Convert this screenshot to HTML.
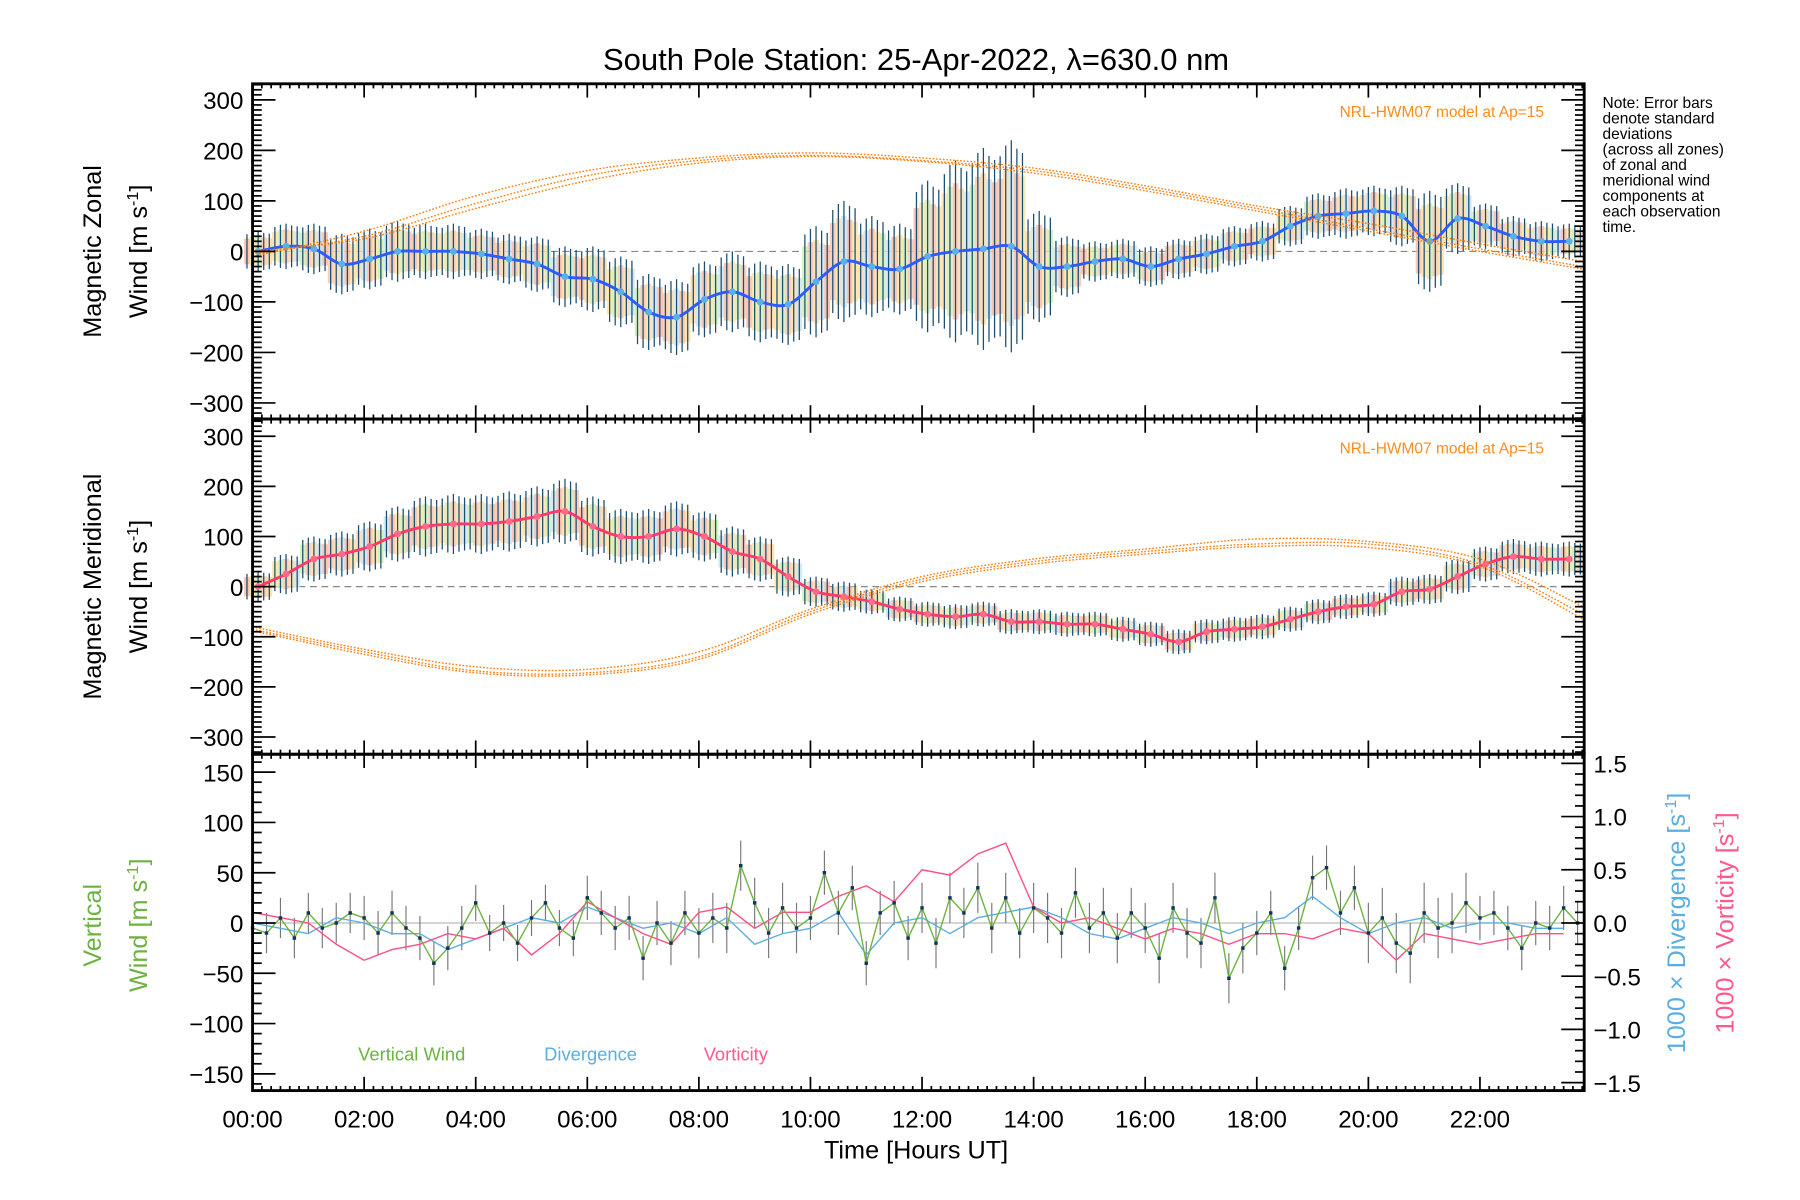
<!DOCTYPE html>
<html><head><meta charset="utf-8"><style>
html,body{margin:0;padding:0;background:#fff;}
svg{display:block;font-family:"Liberation Sans",sans-serif;}
</style></head><body>
<svg id="chart" width="1800" height="1200" viewBox="0 0 1568 1045.3" preserveAspectRatio="none" xmlns="http://www.w3.org/2000/svg">
<text x="798" y="61" font-size="27" text-anchor="middle">South Pole Station: 25-Apr-2022, λ=630.0 nm</text>
<g id="marks"></g>
<g id="axes"></g>
<g font-size="13.5">
<text x="1396" y="94">Note: Error bars</text><text x="1396" y="107.5">denote standard</text><text x="1396" y="121">deviations</text><text x="1396" y="134.5">(across all zones)</text><text x="1396" y="148">of zonal and</text><text x="1396" y="161.5">meridional wind</text><text x="1396" y="175">components at</text><text x="1396" y="188.5">each observation</text><text x="1396" y="202">time.</text>
</g>
<text x="1345" y="102" font-size="13.5" fill="#ff8c1a" text-anchor="end">NRL-HWM07 model at Ap=15</text>
<text x="1345" y="395" font-size="13.5" fill="#ff8c1a" text-anchor="end">NRL-HWM07 model at Ap=15</text>
<text transform="translate(88,219) rotate(-90)" font-size="22" text-anchor="middle">Magnetic Zonal</text>
<text transform="translate(128,219) rotate(-90)" font-size="22" text-anchor="middle">Wind [m s<tspan dy="-8" font-size="14">-1</tspan><tspan dy="8">]</tspan></text>
<text transform="translate(88,511) rotate(-90)" font-size="22" text-anchor="middle">Magnetic Meridional</text>
<text transform="translate(128,511) rotate(-90)" font-size="22" text-anchor="middle">Wind [m s<tspan dy="-8" font-size="14">-1</tspan><tspan dy="8">]</tspan></text>
<text transform="translate(88,806) rotate(-90)" font-size="22" fill="#6db33f" text-anchor="middle">Vertical</text>
<text transform="translate(128,806) rotate(-90)" font-size="22" fill="#6db33f" text-anchor="middle">Wind [m s<tspan dy="-8" font-size="14">-1</tspan><tspan dy="8">]</tspan></text>
<text transform="translate(1468,804) rotate(-90)" font-size="22" fill="#5aaee0" text-anchor="middle">1000 × Divergence [s<tspan dy="-8" font-size="14">-1</tspan><tspan dy="8">]</tspan></text>
<text transform="translate(1510,804) rotate(-90)" font-size="22" fill="#ff5a8a" text-anchor="middle">1000 × Vorticity [s<tspan dy="-8" font-size="14">-1</tspan><tspan dy="8">]</tspan></text>
<text x="312" y="924" font-size="16" fill="#6db33f">Vertical Wind</text>
<text x="474" y="924" font-size="16" fill="#5aaee0">Divergence</text>
<text x="613" y="924" font-size="16" fill="#ff5a8a">Vorticity</text>
<text x="798" y="1009" font-size="22" text-anchor="middle">Time [Hours UT]</text>
</svg>
<script>
// ---- data ----
const zonalMean=[0,10,5,-25,-15,0,0,0,-5,-15,-25,-50,-55,-80,-120,-130,-95,-80,-100,-105,-60,-20,-30,-35,-10,0,5,10,-30,-30,-20,-15,-30,-15,-5,10,20,50,70,75,80,70,20,65,50,30,20,20];
const zonalSd=[40,45,50,60,60,60,55,55,50,50,55,60,65,70,75,75,75,80,80,80,110,120,100,90,150,180,200,210,110,60,40,40,40,40,40,40,40,40,45,50,50,60,100,70,45,40,40,35];
const meridMean=[0,25,55,65,80,105,120,125,125,130,140,150,120,100,100,115,100,70,55,20,-10,-20,-30,-45,-55,-60,-55,-70,-70,-75,-75,-85,-95,-110,-90,-85,-80,-65,-50,-40,-35,-10,-5,20,45,60,55,55];
const meridSd=[30,40,45,45,50,55,60,60,60,60,60,65,60,55,55,55,50,50,45,40,30,30,25,25,25,25,25,25,25,25,25,25,25,25,25,25,25,25,25,25,25,30,30,35,35,35,35,35];
const modelHours=[0,2,4,6,8,10,12,14,16,18,20,22,23.85];
const zonalModelA=[-10,40,110,160,185,195,185,165,130,90,55,15,-20];
const zonalModelB=[-5,30,95,150,180,190,180,160,125,85,45,5,-30];
const zonalModelC=[0,25,85,140,175,188,178,155,120,80,40,0,-35];
const meridModelA=[-80,-125,-160,-165,-130,-45,20,55,75,95,90,55,-40];
const meridModelB=[-85,-130,-168,-172,-140,-50,15,50,70,85,85,45,-55];
const meridModelC=[-88,-135,-172,-176,-145,-55,10,45,65,80,78,40,-65];
const vertWind=[-5,-10,5,-15,10,-5,0,10,5,-10,10,-5,-15,-40,-25,-5,20,-10,0,-20,5,20,-5,-15,25,10,-5,5,-35,0,-20,10,-10,5,-5,57,20,-10,15,-5,5,50,10,35,-40,10,20,-15,15,-20,25,10,35,-5,25,-10,15,5,-10,30,-5,10,-15,10,-5,-35,15,-10,-20,25,-55,-25,-10,10,-45,-5,45,55,10,35,-10,5,-20,-30,10,-5,0,20,5,10,-5,-25,0,-5,15,0];
const vertSd=[20,22,18,22,25,22,25,25,25,22,30,22];
const divergence=[0,-0.05,-0.1,0.05,0,-0.1,-0.1,-0.25,-0.15,-0.05,0.05,0,0.15,0.05,-0.05,0,-0.1,0.05,-0.2,-0.1,-0.05,0.1,-0.3,0,0.05,-0.1,0.05,0.1,0.15,0.05,-0.1,-0.15,-0.05,0.05,0,-0.1,0,0.05,0.25,0.05,-0.1,0,0.05,-0.05,0,0,-0.05,-0.05];
const vorticity=[0.1,0.05,0,-0.2,-0.35,-0.25,-0.2,-0.1,-0.15,-0.05,-0.3,-0.1,0.2,0.05,-0.1,-0.2,0.1,0.15,-0.05,0.1,0.1,0.25,0.35,0.2,0.5,0.45,0.65,0.75,0.15,0,0.05,-0.05,-0.15,-0.05,-0.1,-0.2,-0.1,-0.1,-0.15,-0.05,-0.1,-0.35,-0.1,-0.15,-0.2,-0.15,-0.1,-0.1];
const hourTicks=["00:00","02:00","04:00","06:00","08:00","10:00","12:00","14:00","16:00","18:00","20:00","22:00"];
const windTicks=[-300,-200,-100,0,100,200,300];
const vertTicks=[-150,-100,-50,0,50,100,150];
const rightTicks=["-1.5","-1.0","-0.5","0.0","0.5","1.0","1.5"];

// ---- axes functions ----
const L=220,R=1380;
const X=h=>L+h*48.6;
const Y1=v=>219-v*0.44;
const Y2=v=>511-v*0.4367;
const Y3=v=>804-v*0.876;
const Yr=v=>804-v*92.7;
const NS="http://www.w3.org/2000/svg";
const marks=document.getElementById('marks'),axes=document.getElementById('axes');
function mk(tag,at,parent){const e=document.createElementNS(NS,tag);for(const k in at)e.setAttribute(k,at[k]);(parent||marks).appendChild(e);return e;}
function smooth(pts){let d=`M${pts[0][0]},${pts[0][1]}`;for(let i=0;i<pts.length-1;i++){const p0=pts[Math.max(0,i-1)],p1=pts[i],p2=pts[i+1],p3=pts[Math.min(pts.length-1,i+2)];d+=` C${p1[0]+(p2[0]-p0[0])/6},${p1[1]+(p2[1]-p0[1])/6} ${p2[0]-(p3[0]-p1[0])/6},${p2[1]-(p3[1]-p1[1])/6} ${p2[0]},${p2[1]}`;}return d;}
const pastel=['#f9b8a0','#fde2a0','#cdeeb5','#f6c4b0','#fbd9a5','#c9e4f2'];
const offs=[-0.2,-0.1,0,0.1,0.2];
const scl=[0.85,0.95,1,0.92,0.88];

// zero lines
const z1=mk('line',{x1:L,x2:R,y1:Y1(0),y2:Y1(0),stroke:'#888','stroke-dasharray':'6,4','stroke-width':1});


const z2=mk('line',{x1:L,x2:R,y1:Y2(0),y2:Y2(0),stroke:'#888','stroke-dasharray':'6,4','stroke-width':1});


const z3=mk('line',{x1:L,x2:R,y1:Y3(0),y2:Y3(0),stroke:'#aaa','stroke-width':0.8});



function windPanel(mean,sd,Y,lineColor,ptColor,name){
  mean.forEach((v,i)=>{
    const h=i*0.5+0.1;
    offs.forEach((o,k)=>{
      const s=sd[i]*scl[k]*0.75;
      const band=mk('rect',{x:X(h+o)-2.5,y:Y(v+s),width:5,height:Y(v-s)-Y(v+s),fill:pastel[(i+k)%6],opacity:0.8});
      
      
    });
  });
  mean.forEach((v,i)=>{
    const h=i*0.5+0.1;
    offs.forEach((o,k)=>{
      const b=mk('line',{x1:X(h+o),x2:X(h+o),y1:Y(v+sd[i]*scl[k]),y2:Y(v-sd[i]*scl[k]),stroke:'#1d4e6e','stroke-width':1.1});
      
      
    });
  });
  const pts=mean.map((v,i)=>[X(i*0.5+0.1),Y(v)]);
  const ln=mk('path',{d:smooth(pts),fill:'none',stroke:lineColor,'stroke-width':2.5});
  
  
  pts.forEach(p=>{
    const c=mk('circle',{cx:p[0],cy:p[1],r:3,fill:ptColor});
    
    
  });
}
function modelLines(arrs,Y,name){
  arrs.forEach(a=>{
    const p=mk('path',{d:smooth(a.map((v,i)=>[X(modelHours[i]),Y(v)])),fill:'none',stroke:'#ff7f0e','stroke-width':1.2,'stroke-dasharray':'1.5,1.5'});
    
    
  });
}
windPanel(zonalMean,zonalSd,Y1,'#2a5cff','#5ab0e8','zonal');
modelLines([zonalModelA,zonalModelB,zonalModelC],Y1,'zonal');
windPanel(meridMean,meridSd,Y2,'#ff3a6a','#ff6a8a','meridional');
modelLines([meridModelA,meridModelB,meridModelC],Y2,'meridional');

// panel 3
vertWind.forEach((v,i)=>{
  const h=i*0.25;const s=vertSd[Math.floor(h/2)];
  const b=mk('line',{x1:X(h),x2:X(h),y1:Y3(v+s),y2:Y3(v-s),stroke:'#777','stroke-width':1});
  
  
});
const dv=mk('polyline',{points:divergence.map((v,i)=>X(i*0.5)+','+Yr(v)).join(' '),fill:'none',stroke:'#5aaee0','stroke-width':1.2});


const vo=mk('polyline',{points:vorticity.map((v,i)=>X(i*0.5)+','+Yr(v)).join(' '),fill:'none',stroke:'#ff4f82','stroke-width':1.2});


const vw=mk('polyline',{points:vertWind.map((v,i)=>X(i*0.25)+','+Y3(v)).join(' '),fill:'none',stroke:'#6db33f','stroke-width':1.2});


vertWind.forEach((v,i)=>{
  const c=mk('rect',{x:X(i*0.25)-1.5,y:Y3(v)-1.5,width:3,height:3,fill:'#12345a'});
  
  
});

// frames and ticks
const panels=[[73,365],[365,657],[657,950]];
panels.forEach((p,k)=>{
  const f=mk('rect',{x:L,y:p[0],width:R-L,height:p[1]-p[0],fill:'none',stroke:'#000','stroke-width':2.5},axes);
  
  
  for(let m=0;m<=143;m++){
    const x=X(m/6);if(x>R)break;const len=(m%12===0)?12:4;
    const t1=mk('line',{x1:x,x2:x,y1:p[1],y2:p[1]-len,stroke:'#000','stroke-width':1.5},axes);
    
    
    const t2=mk('line',{x1:x,x2:x,y1:p[0],y2:p[0]+len,stroke:'#000','stroke-width':1.5},axes);
    
    
  }
});
function yTicks(Y,lo,hi,major,minor,top,bot,right){
  for(let v=lo;v<=hi+1e-9;v+=minor){
    const y=Y(v);if(y<top-0.5||y>bot+0.5)continue;
    const isM=Math.abs(Math.round(v/major)*major-v)<1e-6;const len=isM?20:8;
    const t=mk('line',{x1:L,x2:L+len,y1:y,y2:y,stroke:'#000','stroke-width':1.5},axes);
    
    
    if(right){
      const t2=mk('line',{x1:R,x2:R-len,y1:y,y2:y,stroke:'#000','stroke-width':1.5},axes);
      
      
    }
  }
}
yTicks(Y1,-330,330,100,10,73,365,true);
yTicks(Y2,-330,330,100,10,365,657,true);
yTicks(Y3,-170,170,50,10,657,950,false);
for(let v=-1.5;v<=1.55;v+=0.1){
  const y=Yr(v);const isM=Math.abs(Math.round(v*2)/2-v)<1e-6;const len=isM?20:8;
  const t=mk('line',{x1:R,x2:R-len,y1:y,y2:y,stroke:'#000','stroke-width':1.5},axes);
  
  
}
function label(x,y,s,anchor,name){
  const t=mk('text',{x:x,y:y,'font-size':21,'text-anchor':anchor},axes);
  t.textContent=s;
  
  
}
windTicks.forEach(v=>{label(212,Y1(v)+8,String(v).replace('-','−'),'end','zonal-tick-label');label(212,Y2(v)+8,String(v).replace('-','−'),'end','meridional-tick-label');});
vertTicks.forEach(v=>label(212,Y3(v)+8,String(v).replace('-','−'),'end','vertical-tick-label'));
rightTicks.forEach(s=>label(1388,Yr(parseFloat(s))+8,s.replace('-','−'),'start','right-tick-label'));
hourTicks.forEach((s,i)=>label(X(i*2),982,s,'middle','x-tick-label'));
</script>
</body></html>
